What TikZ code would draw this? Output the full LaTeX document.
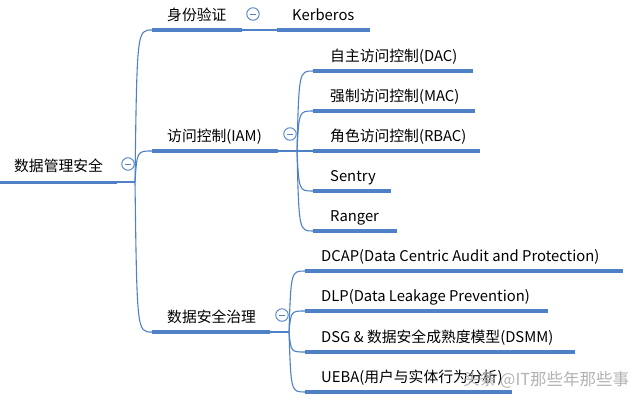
\documentclass[tikz,border=0pt]{standalone}
\usepackage{fontspec}
\setmainfont{Noto Sans CJK SC}
\usetikzlibrary{calc}
\definecolor{mblue}{HTML}{4F81C7}
\begin{document}
\begin{tikzpicture}[x=1pt,y=-1pt,
  ul/.style={draw=mblue, line width=3.4pt},
  conn/.style={draw=mblue, line width=1.1pt},
  lbl/.style={anchor=base west, inner sep=0pt, font=\fontsize{14.8}{17}\selectfont},
  col/.style={circle, draw=mblue, line width=0.9pt, minimum size=12.5pt, inner sep=0pt,
    path picture={\draw[mblue, line width=0.8pt] ([xshift=-3pt]path picture bounding box.center) -- ([xshift=3pt]path picture bounding box.center);}}
]
\useasboundingbox (0,0) rectangle (640,402);
% underline end points
\coordinate (rootL) at (0,182);   \coordinate (rootR) at (117,182);
\coordinate (hub1) at (135,182);
\coordinate (authL) at (152,30);  \coordinate (authR) at (242,30);
\coordinate (kerbL) at (277,30);  \coordinate (kerbR) at (370,30);
\coordinate (iamL) at (152,151);  \coordinate (iamR) at (278,151);
\coordinate (hub2) at (297,151);
\coordinate (dacL) at (313,71);   \coordinate (dacR) at (473,71);
\coordinate (macL) at (313,111);  \coordinate (macR) at (475,111);
\coordinate (rbacL) at (313,151); \coordinate (rbacR) at (480,151);
\coordinate (senL) at (313,191);  \coordinate (senR) at (391,191);
\coordinate (ranL) at (313,231);  \coordinate (ranR) at (397,231);
\coordinate (govL) at (152,332);  \coordinate (govR) at (270,332);
\coordinate (hub3) at (289,332);
\coordinate (dcapL) at (305,271); \coordinate (dcapR) at (623,271);
\coordinate (dlpL) at (305,311);  \coordinate (dlpR) at (548,311);
\coordinate (dsgL) at (305,352);  \coordinate (dsgR) at (575,352);
\coordinate (uebaL) at (305,392); \coordinate (uebaR) at (512,392);

% connectors
\draw[conn] (rootR) -- (hub1);
\foreach \t in {authL,iamL,govL}
  \draw[conn] (hub1) .. controls ($(hub1|-\t)+(2,0)$) and ($(hub1|-\t)+(2,0)$) .. (\t);
\draw[conn] (authR) -- (kerbL);
\draw[conn] (iamR) -- (hub2);
\foreach \t in {dacL,macL,rbacL,senL,ranL}
  \draw[conn] (hub2) .. controls ($(hub2|-\t)+(2,0)$) and ($(hub2|-\t)+(2,0)$) .. (\t);
\draw[conn] (govR) -- (hub3);
\foreach \t in {dcapL,dlpL,dsgL,uebaL}
  \draw[conn] (hub3) .. controls ($(hub3|-\t)+(2,0)$) and ($(hub3|-\t)+(2,0)$) .. (\t);

% underlines
\draw[ul, line width=3pt] (rootL) -- (rootR);
\foreach \n in {auth,kerb,iam,dac,mac,rbac,sen,ran,gov,dcap,dlp,dsg,ueba}
  \draw[ul] (\n L) -- (\n R);

% labels
\node[lbl] (root) at (14,171) {数据管理安全};
\node[lbl] (auth) at (167,20) {身份验证};
\node[lbl] (kerb) at (292,20) {Kerberos};
\node[lbl] (iam) at (167,141) {访问控制(IAM)};
\node[lbl] (dac) at (330,61) {自主访问控制(DAC)};
\node[lbl] (mac) at (330,101) {强制访问控制(MAC)};
\node[lbl] (rbac) at (330,141) {角色访问控制(RBAC)};
\node[lbl] (sen) at (330,181) {Sentry};
\node[lbl] (ran) at (330,221) {Ranger};
\node[lbl] (gov) at (167,322) {数据安全治理};
\node[lbl] (dcap) at (321,261) {DCAP(Data Centric Audit and Protection)};
\node[lbl] (dlp) at (321,301) {DLP(Data Leakage Prevention)};
\node[lbl] (dsg) at (321,342) {DSG \& 数据安全成熟度模型(DSMM)};
\node[lbl] (ueba) at (321,382) {UEBA(用户与实体行为分析)};

% collapse markers
\node[col] (c0) at (128,164) {};
\node[col] (c1) at (253,14) {};
\node[col] (c2) at (290,134) {};
\node[col] (c3) at (282,315) {};

% watermark
\node[anchor=west, inner sep=0pt, text=gray!60, font=\fontsize{16.5}{18}\selectfont] (wm) at (463,380) {头条 @IT那些年那些事};
\end{tikzpicture}
\end{document}
